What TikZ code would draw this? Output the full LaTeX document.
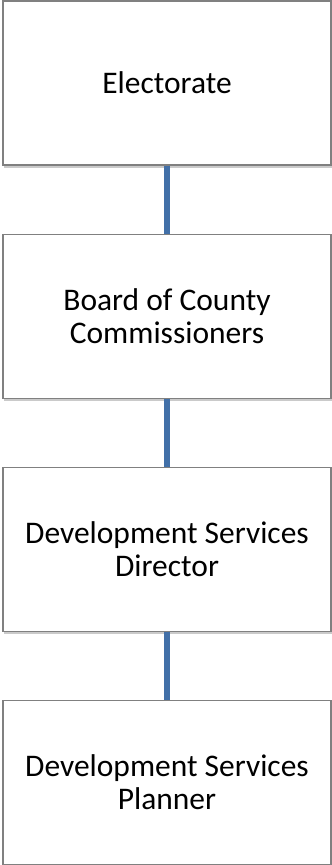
\documentclass[tikz,border=0pt]{standalone}
\usepackage{fontspec}
\setmainfont{Carlito}
\usepackage{tikz}
\usepackage{xcolor}
\usetikzlibrary{positioning,shadows}
\definecolor{linkblue}{RGB}{66,112,168}
\definecolor{boxgray}{RGB}{128,128,128}

\begin{document}
\begin{tikzpicture}[font=\fontsize{23.6}{25}\selectfont,
    rolebox/.style={draw=boxgray, line width=0.8pt, fill=white, minimum width=246pt, minimum height=123pt,
        align=center, inner sep=0pt, drop shadow={shadow xshift=1pt, shadow yshift=-2pt, opacity=0.35, fill=black!60}},
    link/.style={draw=linkblue, line width=3.8pt},
    node distance=51pt]
            \useasboundingbox (0,0) rectangle (249pt,-648.75pt);
            \node[rolebox] (elect) at (125.25pt,-62.25pt) {Electorate};
            \node[rolebox, below=of elect] (board) {Board of County\\Commissioners};
            \node[rolebox, below=of board] (dir) {Development Services\\Director};
            \node[rolebox, below=of dir] (plan) {Development Services\\Planner};
            \foreach \a/\b in {elect/board, board/dir, dir/plan}
                \draw[link] (\a.south) -- (\b.north);
        \end{tikzpicture}
\end{document}
